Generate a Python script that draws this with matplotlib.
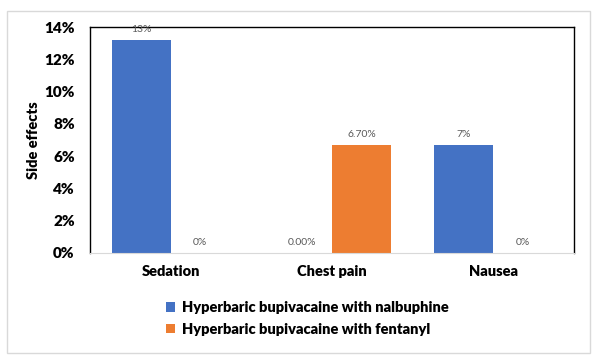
import matplotlib
matplotlib.use("Agg")
import matplotlib.pyplot as plt
from matplotlib.patches import Rectangle
import numpy as np

categories = ["Sedation", "Chest pain", "Nausea"]
series_names = ["Hyperbaric bupivacaine with nalbuphine",
                "Hyperbaric bupivacaine with fentanyl"]
nalbuphine = [13.2, 0.0, 6.7]
fentanyl = [0.0, 6.7, 0.0]
nalbuphine_labels = ["13%", "0.00%", "7%"]
fentanyl_labels = ["0%", "6.70%", "0%"]
yticks = [0, 2, 4, 6, 8, 10, 12, 14]

colors = ["#4472C4", "#ED7D31"]
plt.rcParams['font.family'] = ['Lato', 'DejaVu Sans']

W, H = 597, 362
fig = plt.figure(figsize=(W/100, H/100), dpi=100)
# outer chart border
fig.patches.append(Rectangle((7/W, 1 - 353/H), (590-7)/W, (353-11)/H,
                             transform=fig.transFigure, fill=False,
                             edgecolor="#D9D9D9", linewidth=1.0))

ax = fig.add_axes([90/W, 1 - 253/H, (574-90)/W, (253-27)/H])
x = np.arange(len(categories))
bw = 0.366
b1 = ax.bar(x - bw/2, nalbuphine, bw, color=colors[0], label=series_names[0])
b2 = ax.bar(x + bw/2, fentanyl, bw, color=colors[1], label=series_names[1])

for bars, labs in ((b1, nalbuphine_labels), (b2, fentanyl_labels)):
    for rect, lab in zip(bars, labs):
        ax.annotate(lab, (rect.get_x() + rect.get_width()/2, rect.get_height()),
                    xytext=(0, 4), textcoords="offset points",
                    ha="center", va="bottom", fontsize=7.5, color="#595959")

fw = "heavy"
ax.set_xlim(-0.5, 2.5)
ax.set_ylim(0, 14)
ax.set_yticks(yticks)
ax.set_yticklabels([f"{v}%" for v in yticks], fontsize=11, fontweight=fw)
ax.set_xticks(x)
ax.set_xticklabels(categories, fontsize=10.5, fontweight=fw)
ax.tick_params(axis="both", length=0)
ax.tick_params(axis="y", pad=11)
ax.tick_params(axis="x", pad=9)
for s in ("left", "top", "right"):
    ax.spines[s].set_color("black")
    ax.spines[s].set_linewidth(1.0)
ax.spines["bottom"].set_color("#D9D9D9")
ax.set_ylabel("Side effects", fontsize=10.5, fontweight=fw, labelpad=3)

leg = fig.legend(handles=[b1, b2], labels=series_names, loc="upper left",
                 bbox_to_anchor=(153/W, 1 - 288/H), frameon=False,
                 prop={"size": 10.5, "weight": fw}, handlelength=0.6,
                 handleheight=0.6, handletextpad=0.5, labelspacing=0.6)

fig.savefig("out.png", dpi=100)
